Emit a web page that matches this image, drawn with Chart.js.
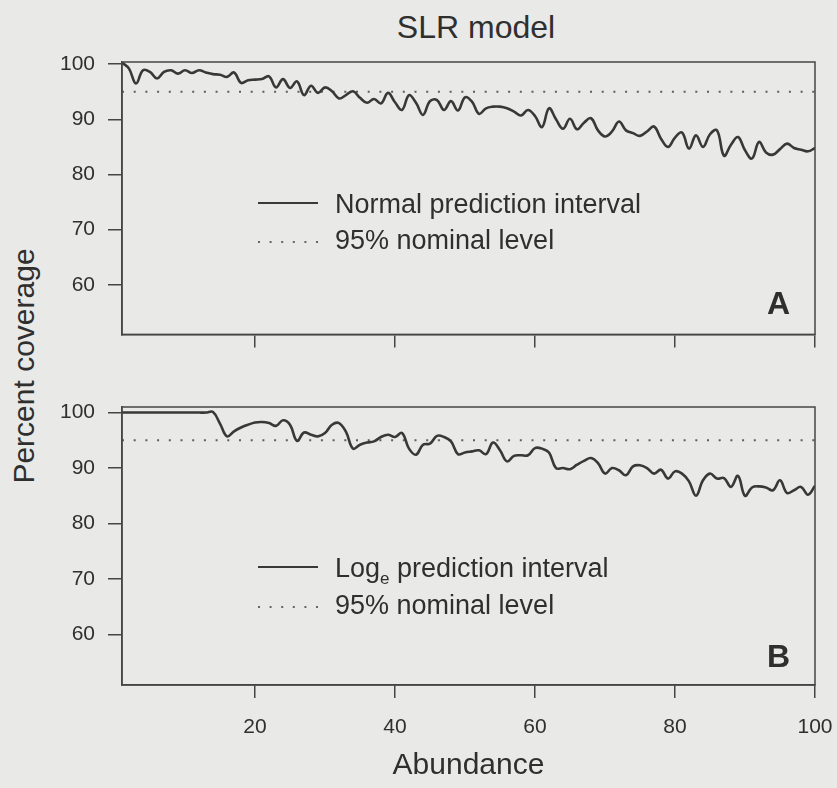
<!DOCTYPE html>
<html>
<head>
<meta charset="utf-8">
<title>SLR model</title>
<script src="https://cdn.jsdelivr.net/npm/chart.js@4.4.1/dist/chart.umd.min.js"></script>
<style>
  html, body { margin: 0; padding: 0; background: #e9e9e7; }
  #wrap { position: relative; width: 837px; height: 788px; overflow: hidden;
          font-family: "Liberation Sans", Arial, sans-serif; color: #2f2f2f; }
  #panelA { position: absolute; left: 0; top: 0; }
  #panelB { position: absolute; left: 0; top: 360px; }
  .title { position: absolute; left: 326px; width: 300px; top: 11px; line-height: 32px;
           text-align: center; font-size: 32px; }
  .ytitle { position: absolute; left: 24px; top: 366px; font-size: 30px; white-space: nowrap;
            transform: translate(-50%, -50%) rotate(-90deg); }
</style>
</head>
<body>
<div id="wrap">
  <div class="title">SLR model</div>
  <div class="ytitle">Percent coverage</div>
  <canvas id="panelA" width="837" height="360"></canvas>
  <canvas id="panelB" width="837" height="428"></canvas>
</div>
<script>
// Abundance (x) and percent coverage of the two prediction intervals
const abundance = [
  1, 2, 3, 4, 5, 6, 7, 8, 9, 10, 11, 12, 13, 14, 15, 16, 17, 18, 19, 20,
  21, 22, 23, 24, 25, 26, 27, 28, 29, 30, 31, 32, 33, 34, 35, 36, 37, 38, 39, 40,
  41, 42, 43, 44, 45, 46, 47, 48, 49, 50, 51, 52, 53, 54, 55, 56, 57, 58, 59, 60,
  61, 62, 63, 64, 65, 66, 67, 68, 69, 70, 71, 72, 73, 74, 75, 76, 77, 78, 79, 80,
  81, 82, 83, 84, 85, 86, 87, 88, 89, 90, 91, 92, 93, 94, 95, 96, 97, 98, 99, 100
];

// A: normal prediction interval
const normalCov = [
  100.3, 99.2, 96.5, 98.9, 98.6, 97.4, 98.6, 98.9, 98.3, 98.9,
  98.4, 98.9, 98.5, 98.2, 98.1, 97.7, 98.5, 96.6, 97.1, 97.2,
  97.3, 97.8, 95.8, 97.3, 95.7, 96.9, 94.4, 96.1, 94.8, 95.8,
  95.1, 93.8, 94.4, 95.1, 93.9, 93.0, 93.7, 92.9, 94.8, 93.1,
  91.7, 94.4, 93.0, 90.8, 93.3, 93.5, 91.7, 93.3, 91.6, 94.0,
  93.2, 91.0, 92.0, 92.3, 92.3, 92.0, 91.4, 90.7, 91.7, 90.6,
  88.6, 92.0, 90.0, 88.3, 90.1, 88.2, 89.4, 90.2, 88.0, 86.9,
  87.8, 89.6, 88.0, 87.5, 87.0, 87.8, 88.7, 86.5, 85.0, 86.7,
  87.6, 84.7, 87.1, 85.0, 87.3, 88.0, 83.4, 85.4, 86.8, 84.4,
  82.9, 85.9, 84.0, 83.6, 84.6, 85.6, 84.8, 84.5, 84.2, 84.8
];

// B: log_e prediction interval
const logCov = [
  100.0, 100.0, 100.0, 100.0, 100.0, 100.0, 100.0, 100.0, 100.0, 100.0,
  100.0, 100.0, 100.0, 100.1, 98.0, 95.7, 96.6, 97.3, 97.8, 98.2,
  98.3, 98.1, 97.6, 98.6, 97.8, 94.9, 96.4, 96.0, 95.7, 96.3,
  97.8, 98.1, 96.5, 93.5, 94.2, 94.6, 94.8, 95.6, 96.0, 95.6,
  96.3, 93.5, 92.4, 94.2, 94.4, 95.8, 95.6, 94.8, 92.5, 92.8,
  93.0, 93.2, 92.5, 94.6, 93.2, 91.2, 92.2, 92.3, 92.3, 93.6,
  93.5, 92.8, 90.0, 90.0, 89.8, 90.6, 91.3, 91.8, 90.9, 89.0,
  90.0, 89.6, 88.7, 90.3, 90.5, 90.0, 89.0, 89.7, 88.1, 89.4,
  89.0, 87.6, 85.0, 87.8, 89.0, 88.1, 88.2, 86.6, 88.6, 85.0,
  86.5, 86.7, 86.5, 86.0, 87.8, 85.5, 86.0, 86.6, 85.2, 86.8
];

const nominal = 95;
const xTicks = [20, 40, 60, 80, 100];
const yTicks = [60, 70, 80, 90, 100];

const ink = '#2f2f2f';
const axisInk = '#454545';
const family = '"Liberation Sans", Arial, sans-serif';

function points(ys) {
  return abundance.map((x, i) => ({ x, y: ys[i] }));
}

// Box around the plot area, in-plot legend and the panel letter
const panelDecor = {
  id: 'panelDecor',
  afterDraw(chart, args, o) {
    const { ctx, chartArea: a } = chart;
    ctx.save();
    ctx.strokeStyle = axisInk;
    ctx.lineWidth = 1.5;
    ctx.strokeRect(a.left, a.top, a.right - a.left, a.bottom - a.top);

    const x0 = a.left + 136, x1 = a.left + 196, tx = a.left + 213;

    // solid sample
    ctx.strokeStyle = '#3a3a3a';
    ctx.lineWidth = 2.2;
    ctx.beginPath();
    ctx.moveTo(x0, a.top + o.lineY);
    ctx.lineTo(x1, a.top + o.lineY);
    ctx.stroke();

    // dotted sample
    ctx.strokeStyle = '#666';
    ctx.lineWidth = 2;
    ctx.setLineDash([2, 9.6]);
    ctx.beginPath();
    ctx.moveTo(x0, a.top + o.dotY);
    ctx.lineTo(x1 + 2, a.top + o.dotY);
    ctx.stroke();
    ctx.setLineDash([]);

    ctx.fillStyle = ink;
    ctx.textBaseline = 'middle';
    ctx.textAlign = 'left';
    let x = tx;
    o.label.forEach(part => {
      ctx.font = (part.sub ? '17px ' : '27px ') + family;
      ctx.fillText(part.t, x, a.top + o.lineY + 3 + (part.sub ? 9 : 0));
      x += ctx.measureText(part.t).width;
    });
    ctx.font = '27px ' + family;
    ctx.fillText('95% nominal level', tx, a.top + o.dotY);

    ctx.font = 'bold 32px ' + family;
    ctx.textAlign = 'right';
    ctx.textBaseline = 'alphabetic';
    ctx.fillText(o.letter, a.right - 25, a.bottom - o.letterDy);
    ctx.restore();
  }
};

function makePanel(id, series, cfg) {
  return new Chart(document.getElementById(id), {
    type: 'line',
    data: {
      datasets: [
        {
          data: points(series),
          borderColor: '#383838',
          borderWidth: 2.6,
          pointRadius: 0,
          tension: 0.4,
          fill: false
        },
        {
          data: [
            { x: abundance[0], y: nominal },
            { x: abundance[abundance.length - 1], y: nominal }
          ],
          borderColor: '#5e5e5e',
          borderWidth: 2,
          borderDash: [2, 9.7],
          pointRadius: 0,
          fill: false
        }
      ]
    },
    options: {
      responsive: false,
      animation: false,
      events: [],
      layout: { padding: { top: cfg.padTop, right: 22, left: 0, bottom: 0 } },
      plugins: {
        legend: { display: false },
        tooltip: { enabled: false },
        panelDecor: cfg.decor
      },
      scales: {
        x: {
          type: 'linear',
          min: 1,
          max: 100,
          afterBuildTicks: s => { s.ticks = xTicks.map(v => ({ value: v })); },
          afterFit: s => {
            s.height = cfg.xHeight;
            // keep the "100" label from shrinking the plot area
            s.paddingLeft = 0;
            s.paddingRight = 0;
          },
          grid: { drawOnChartArea: false, drawTicks: true, tickLength: 13, color: axisInk, lineWidth: 1.5 },
          border: { display: true, color: axisInk, width: 1.5 },
          ticks: {
            display: cfg.xLabels,
            padding: 17,
            color: ink,
            font: { family, size: 21 },
            maxRotation: 0
          },
          title: {
            display: cfg.xLabels,
            text: 'Abundance',
            color: ink,
            font: { family, size: 30 },
            padding: { top: 0, bottom: 4 }
          }
        },
        y: {
          min: cfg.yMin,
          max: cfg.yMax,
          afterBuildTicks: s => { s.ticks = yTicks.map(v => ({ value: v })); },
          afterFit: s => { s.width = 122; },
          grid: { drawOnChartArea: false, drawTicks: true, tickLength: 14, color: axisInk, lineWidth: 1.5 },
          border: { display: true, color: axisInk, width: 1.5 },
          ticks: {
            padding: 13,
            color: ink,
            font: { family, size: 21 }
          }
        }
      }
    },
    plugins: [panelDecor]
  });
}

makePanel('panelA', normalCov, {
  padTop: 62, xHeight: 21, xLabels: false, yMin: 51, yMax: 100.4,
  decor: {
    letter: 'A', letterDy: 20, lineY: 141, dotY: 180,
    label: [{ t: 'Normal prediction interval' }]
  }
});

makePanel('panelB', logCov, {
  padTop: 47, xHeight: 103, xLabels: true, yMin: 50.9, yMax: 101,
  decor: {
    letter: 'B', letterDy: 18, lineY: 160, dotY: 200,
    label: [{ t: 'Log' }, { t: 'e', sub: true }, { t: ' prediction interval' }]
  }
});
</script>
</body>
</html>
